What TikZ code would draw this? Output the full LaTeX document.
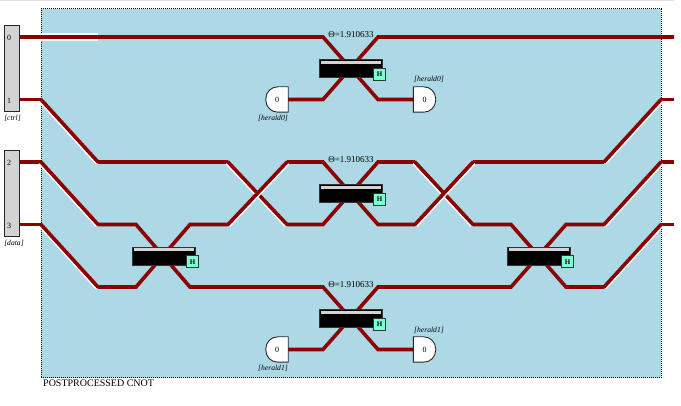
\documentclass[tikz,border=0pt]{standalone}
\usepackage{fontspec}
\setmainfont{Liberation Serif}
\definecolor{panelblue}{HTML}{ADD8E6}
\definecolor{wirered}{HTML}{8B0000}
\definecolor{hadamard}{HTML}{7FFFD4}
\definecolor{portgray}{HTML}{D3D3D3}
\tikzset{
	wire/.style={draw=wirered, line width=3.6pt, line join=miter},
	halo/.style={wire, line cap=round, preaction={draw=white, line width=5pt, transform canvas={shift={(#1,-0.6pt)}}}},
	portbox/.style={rectangle, draw=black!85, line width=1.4pt, fill=portgray, minimum width=15pt, minimum height=86pt, inner sep=0pt},
	portnum/.style={font=\fontsize{8}{8}\selectfont, inner sep=0pt},
	smalltag/.style={font=\fontsize{7.6}{8}\selectfont\itshape, inner sep=0pt},
	beam/.style={rectangle, draw=black!80, line width=0.8pt, fill=black, minimum width=63pt, minimum height=18pt, inner sep=0pt},
	beamtop/.style={rectangle, fill=portgray, minimum width=60pt, minimum height=3pt, inner sep=0pt},
	hbox/.style={rectangle, draw=black!80, line width=1pt, fill=hadamard, minimum size=12pt, inner sep=0pt, font=\fontsize{7}{7}\selectfont\bfseries},
	angle/.style={font=\fontsize{9}{9}\selectfont, inner sep=0pt},
	heraldbox/.style={rectangle, minimum width=22pt, minimum height=25pt, inner sep=0pt},
	heraldline/.style={draw=black!85, line width=0.9pt, fill=white},
	heraldnum/.style={inner sep=0pt, font=\fontsize{8}{8}\selectfont},
}
\begin{document}
\begin{tikzpicture}[x=1pt,y=-1pt]
	\useasboundingbox (0,0) rectangle (681,406);
	\fill[black!12] (0,0) rectangle (674,1.5);
	% panel
	\node (panel) at (351, 193.5) [rectangle, draw=black, densely dotted, line width=1pt, fill=panelblue, minimum width=620pt, minimum height=369pt, inner sep=0pt] {};
	\node (title) at (43, 383.5) [anchor=west, inner sep=0pt, font=\fontsize{10}{10}\selectfont] {POSTPROCESSED CNOT};

	% wire rows
	\coordinate (in0) at (20, 37);		\coordinate (t1) at (41, 37);		\coordinate (t2) at (98, 37);
	\coordinate (t3) at (323, 37);		\coordinate (t4) at (378, 37);		\coordinate (t5) at (674, 37);
	\coordinate (in1) at (20, 99.5);	\coordinate (u1) at (41, 99.5);		\coordinate (u2) at (323, 99.5);
	\coordinate (u3) at (378, 99.5);	\coordinate (u4) at (661, 99.5);	\coordinate (u5) at (674, 99.5);
	\coordinate (in2) at (20, 162);		\coordinate (m1) at (41, 162);		\coordinate (m2) at (98, 162);
	\coordinate (m3) at (228, 162);		\coordinate (m4) at (287, 162);		\coordinate (m5) at (323, 162);
	\coordinate (m6) at (378, 162);		\coordinate (m7) at (415, 162);		\coordinate (m8) at (473, 162);
	\coordinate (m9) at (604, 162);		\coordinate (m10) at (661, 162);	\coordinate (m11) at (674, 162);
	\coordinate (in3) at (20, 224.5);	\coordinate (n1) at (41, 224.5);	\coordinate (n2) at (98, 224.5);
	\coordinate (n3) at (136, 224.5);	\coordinate (n4) at (190, 224.5);	\coordinate (n5) at (228, 224.5);
	\coordinate (n6) at (287, 224.5);	\coordinate (n7) at (323, 224.5);	\coordinate (n8) at (378, 224.5);
	\coordinate (n9) at (415, 224.5);	\coordinate (n10) at (473, 224.5);	\coordinate (n11) at (511, 224.5);
	\coordinate (n12) at (566, 224.5);	\coordinate (n13) at (604, 224.5);	\coordinate (n14) at (661, 224.5);
	\coordinate (n15) at (674, 224.5);
	\coordinate (b1) at (98, 287);		\coordinate (b2) at (136, 287);		\coordinate (b3) at (190, 287);
	\coordinate (b4) at (323, 287);		\coordinate (b5) at (378, 287);		\coordinate (b6) at (511, 287);
	\coordinate (b7) at (566, 287);		\coordinate (b8) at (604, 287);
	\coordinate (c1) at (323, 349.5);	\coordinate (c2) at (378, 349.5);

	% herald detectors
	\node (hl0) at (277, 99.5)	[heraldbox] {};
	\node (hr0) at (424.5, 99.5)	[heraldbox] {};
	\node (hl1) at (277, 349.5)	[heraldbox] {};
	\node (hr1) at (424.5, 349.5)	[heraldbox] {};

	% plain wires
	\draw[white, line width=8pt] (t1) -- (t2);
	\draw[wire] (in0) -- (t3) -- (u3) -- (hr0);
	\draw[wire] (hl0) -- (u2) -- (t4) -- (t5);
	\draw[wire] (in1) -- (u1);
	\draw[wire] (in2) -- (m1);
	\draw[wire] (in3) -- (n1);
	\draw[wire] (m2) -- (m3);
	\draw[wire] (m4) -- (m5) -- (n8) -- (n9);
	\draw[wire] (n6) -- (n7) -- (m6) -- (m7);
	\draw[wire] (m8) -- (m9);
	\draw[wire] (u4) -- (u5);
	\draw[wire] (m10) -- (m11);
	\draw[wire] (n14) -- (n15);
	\draw[wire] (n2) -- (n3) -- (b3) -- (b4) -- (c2) -- (hr1);
	\draw[wire] (b1) -- (b2) -- (n4) -- (n5);
	\draw[wire] (hl1) -- (c1) -- (b5) -- (b6) -- (n12) -- (n13);
	\draw[wire] (n10) -- (n11) -- (b7) -- (b8);

	% wires with a white edge
	\draw[halo=-0.6pt] (u1) -- (m2);
	\draw[halo=-0.6pt] (m1) -- (n2);
	\draw[halo=-0.6pt] (n1) -- (b1);
	\draw[halo=-0.6pt] (m3) -- (n6);
	\draw[halo=-0.6pt] (m7) -- (n10);
	\draw[halo=0.6pt] (n5) -- (m4);
	\draw[halo=0.6pt] (n9) -- (m8);
	\draw[halo=0.6pt] (m9) -- (u4);
	\draw[halo=0.6pt] (n13) -- (m10);
	\draw[halo=0.6pt] (b8) -- (n14);

	% detector bodies, round on the free side
	\draw[heraldline] (hl0.north east) [rounded corners=12pt] -- (hl0.north west) -- (hl0.south west) [sharp corners] -- (hl0.south east) -- cycle;
	\draw[heraldline] (hl1.north east) [rounded corners=12pt] -- (hl1.north west) -- (hl1.south west) [sharp corners] -- (hl1.south east) -- cycle;
	\draw[heraldline] (hr0.north west) [rounded corners=12pt] -- (hr0.north east) -- (hr0.south east) [sharp corners] -- (hr0.south west) -- cycle;
	\draw[heraldline] (hr1.north west) [rounded corners=12pt] -- (hr1.north east) -- (hr1.south east) [sharp corners] -- (hr1.south west) -- cycle;
	\node (numl0) at (hl0) [heraldnum] {0};
	\node (numr0) at (hr0) [heraldnum] {0};
	\node (numl1) at (hl1) [heraldnum] {0};
	\node (numr1) at (hr1) [heraldnum] {0};

	% input ports
	\node (ctrl) at (12, 68.5)	[portbox] {};
	\node (data) at (12, 193.5)	[portbox] {};
	\node (p0) at (9, 38)		[portnum] {0};
	\node (p1) at (9, 100.5)	[portnum] {1};
	\node (p2) at (9, 163)		[portnum] {2};
	\node (p3) at (9, 225.5)	[portnum] {3};
	\node (ctrltag) at (12.5, 118)	[smalltag] {[ctrl]};
	\node (datatag) at (14, 243)	[smalltag] {[data]};

	% beam splitters
	\node (bsA) at (351, 68.5)	[beam] {};
	\node (bsB) at (351, 193.5)	[beam] {};
	\node (bsC) at (351, 318.5)	[beam] {};
	\node (bsL) at (163.5, 256)	[beam] {};
	\node (bsR) at (538.5, 256)	[beam] {};
	\node (topA) at (351, 62.5)	[beamtop] {};
	\node (topB) at (351, 187.5)	[beamtop] {};
	\node (topC) at (351, 312.5)	[beamtop] {};
	\node (topL) at (163.5, 250)	[beamtop] {};
	\node (topR) at (538.5, 250)	[beamtop] {};
	\node (hA) at (379.5, 74.5)	[hbox] {H};
	\node (hB) at (379.5, 199.5)	[hbox] {H};
	\node (hC) at (379.5, 324.5)	[hbox] {H};
	\node (hL) at (192.5, 262)	[hbox] {H};
	\node (hR) at (567.5, 262)	[hbox] {H};
	\node (angA) at (351, 35)	[angle] {Θ=1.910633};
	\node (angB) at (351, 160)	[angle] {Θ=1.910633};
	\node (angC) at (351, 285)	[angle] {Θ=1.910633};

	% herald tags
	\node (tagl0) at (273, 118)	[smalltag] {[herald0]};
	\node (tagr0) at (429, 79.5)	[smalltag] {[herald0]};
	\node (tagl1) at (273, 368)	[smalltag] {[herald1]};
	\node (tagr1) at (429, 330)	[smalltag] {[herald1]};
\end{tikzpicture}
\end{document}
